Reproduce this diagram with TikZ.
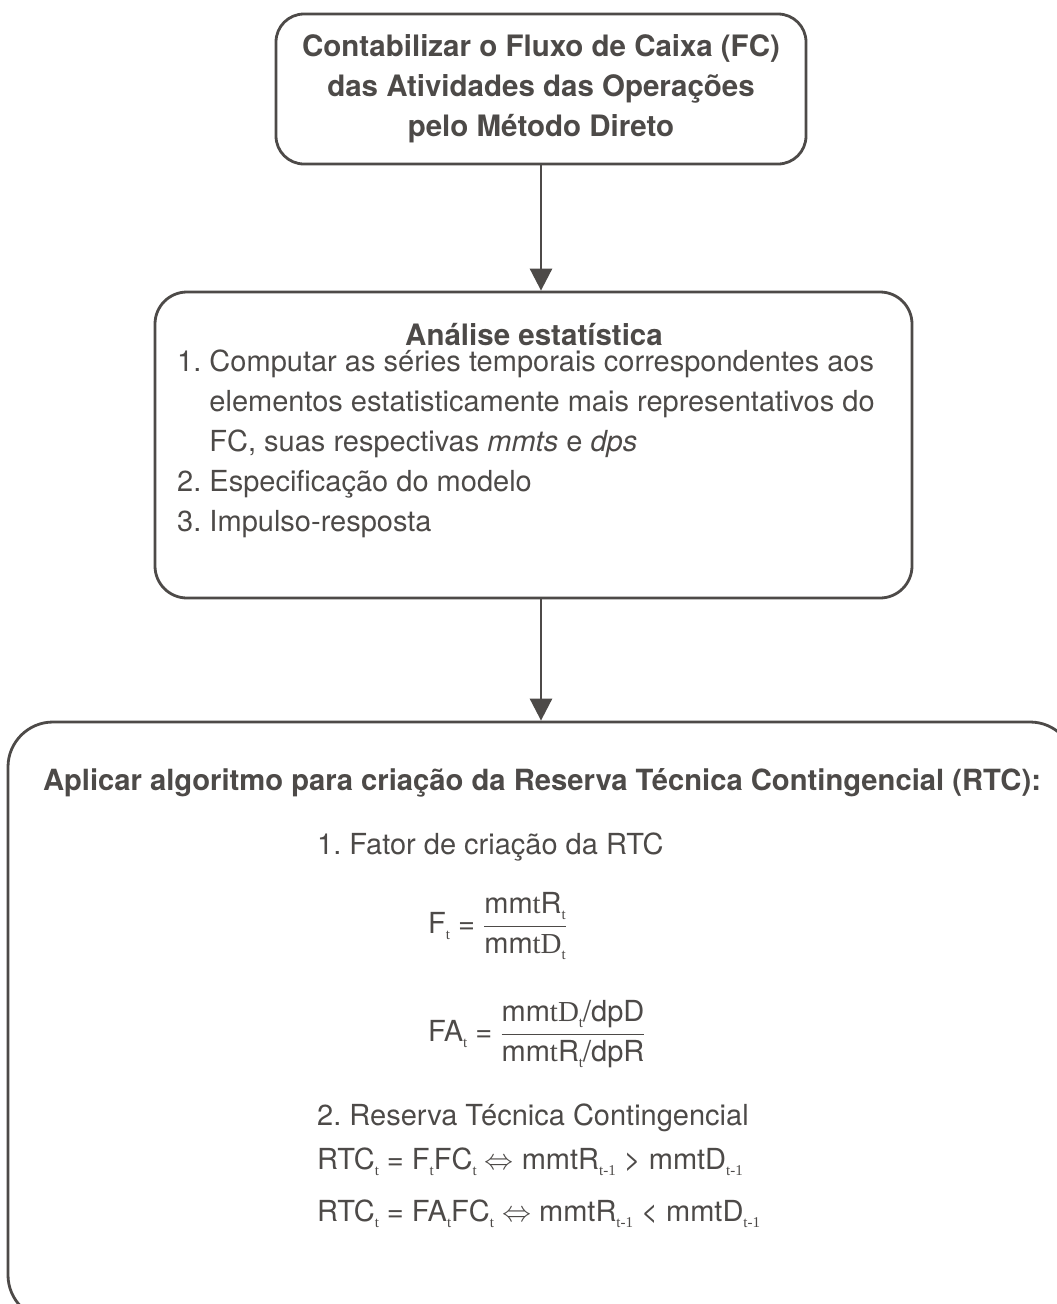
\RequirePackage{fix-cm}
\documentclass[tikz,border=0pt]{standalone}
\usepackage{amsmath}
\usepackage{fontspec}
\setmainfont{TeX Gyre Heros}
\newfontfamily\subfont{Liberation Serif}
\usetikzlibrary{arrows.meta}
\definecolor{ink}{RGB}{77,74,72}
\newcommand{\ix}[1]{\raisebox{-6pt}{\subfont\fontsize{15}{15}\selectfont #1}}
\frenchspacing
\tikzset{
  box/.style={draw=ink, line width=2.8pt, rounded corners=#1},
  flow/.style={draw=ink, line width=2.8pt, -{Triangle[length=22pt,width=22pt]}},
}

\begin{document}
\begin{tikzpicture}[x=1pt,y=-1pt,text=ink]
  \useasboundingbox (0,0) rectangle (1057,1304);
  \clip (0,0) rectangle (1057,1304);
  \node[box=28pt, minimum width=530pt, minimum height=150pt, align=center,
        font=\fontsize{29.5}{40}\selectfont\bfseries] (fluxo) at (541,89)
        {Contabilizar o Fluxo de Caixa (FC)\\das Atividades das Operações\\pelo Método Direto};
  \node[box=32pt, minimum width=757pt, minimum height=306pt] (stat) at (533.5,445) {};
  \node[anchor=base, font=\fontsize{29.5}{34}\selectfont\bfseries] (stathead) at (534,345) {Análise estatística};
  \node[anchor=north west, align=left, inner sep=0pt, font=\fontsize{29}{40}\selectfont] (statlist) at (177,350)
        {1. Computar as séries temporais correspondentes aos\\
         \phantom{1.\ }elementos estatisticamente mais representativos do\\
         \phantom{1.\ }FC, suas respectivas \textit{mmts} e \textit{dps}\\
         2. Especificação do modelo\\
         3. Impulso-resposta};
  \node[box=45pt, minimum width=1067pt, minimum height=598pt] (alg) at (541.5,1021) {};
  \node[font=\fontsize{29.2}{36}\selectfont\bfseries] (algtitle) at (542,783)
        {Aplicar algoritmo para criação da Reserva Técnica Contingencial (RTC):};
  \begin{scope}[every node/.style={anchor=west, inner sep=0pt, font=\fontsize{29}{36}\selectfont}]
    \node (fator) at (317,847) {1. Fator de criação da RTC};
    \node (ft) at (428,926) {F\ix{t} = $\dfrac{\text{mm{\subfont t}R\ix{t}}}{\text{mm{\subfont tD}\ix{t}}}$};
    \node (fat) at (428,1034) {FA\ix{t} = $\dfrac{\text{mm{\subfont tD}\ix{t}/dpD}}{\text{mm{\subfont t}R\ix{t}/dpR}}$};
    \node (reserva) at (317,1118) {2. Reserva Técnica Contingencial};
    \node (rtca) at (317,1162) {RTC\ix{t} = F\ix{t}FC\ix{t} $\Leftrightarrow$ mmtR\ix{t-1} > mmtD\ix{t-1}};
    \node (rtcb) at (317,1214) {RTC\ix{t} = FA\ix{t}FC\ix{t} $\Leftrightarrow$ mmtR\ix{t-1} < mmtD\ix{t-1}};
  \end{scope}
  \draw[flow] (fluxo.south) -- (fluxo.south |- stat.north);
  \draw[flow] (stat.south -| fluxo.south) -- (fluxo.south |- alg.north);
\end{tikzpicture}
\end{document}
